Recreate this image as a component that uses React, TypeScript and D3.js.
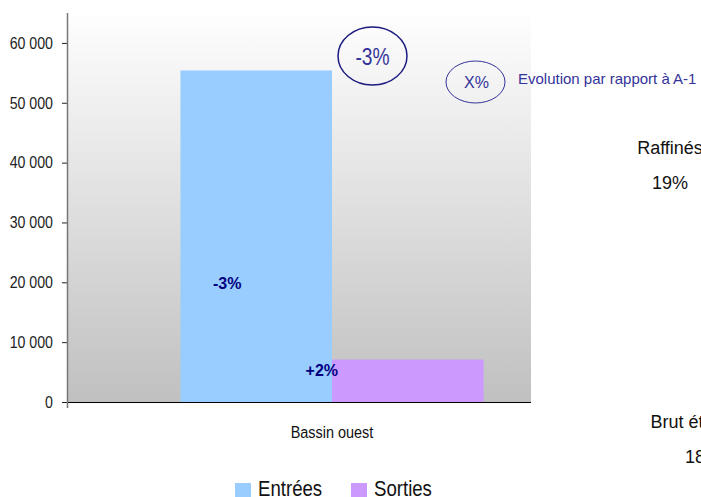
import { useEffect, useRef } from 'react';
import * as d3 from "d3";

const categories = ["Bassin ouest"];
const seriesNames = ["Entrées", "Sorties"];
const seriesColors = ["#99CCFF", "#CC99FF"];
const entrees = [55400];
const sorties = [7100];
const barEvolutions = ["-3%", "+2%"];
const totalEvolution = "-3%";
const yTicks = [0, 10000, 20000, 30000, 40000, 50000, 60000];
const pieNames = ["Raffinés", "Brut étranger"];
const piePcts = ["19%", "18%"];

const W = 701;
const H = 497;
const FONT = "'Liberation Sans', Arial, sans-serif";

type Sel = d3.Selection<SVGSVGElement, unknown, null, undefined>;

// texte un peu comprimé horizontalement, comme dans l'export d'origine
function label(svg: Sel, x: number, y: number, txt: string, size: number, sx = 1,
    anchor = "start", fill = "#111", weight = "normal") {
    return svg.append("text")
        .attr("transform", `translate(${x},${y}) scale(${sx},1)`)
        .attr("text-anchor", anchor)
        .attr("font-family", FONT).attr("font-size", size)
        .attr("font-weight", weight).attr("fill", fill)
        .text(txt);
}

const App = () => {
    const ref = useRef<SVGSVGElement | null>(null);

    useEffect(() => {
        if (!ref.current) return;
        const svg = d3.select(ref.current) as Sel;
        svg.selectAll("*").remove();

        const left = 68, right = 596, top = 13, bottom = 402;

        const y = d3.scaleLinear().domain([0, 65000]).range([bottom, top]);
        const x = d3.scaleBand().domain(categories).range([left, right]).paddingInner(0).paddingOuter(0.371);
        const xs = d3.scaleBand().domain(seriesNames).range([0, x.bandwidth()]);

        // fond dégradé
        const defs = svg.append("defs");
        const grad = defs.append("linearGradient").attr("id", "bg").attr("x1", 0).attr("y1", 0).attr("x2", 0).attr("y2", 1);
        grad.append("stop").attr("offset", "0%").attr("stop-color", "#fefefe");
        grad.append("stop").attr("offset", "100%").attr("stop-color", "#c0c0c0");

        svg.append("rect").attr("width", W).attr("height", H).attr("fill", "white");
        svg.append("rect")
            .attr("x", left).attr("y", y(65000) + 1)
            .attr("width", right - left).attr("height", bottom - y(65000) - 1)
            .attr("fill", "url(#bg)");

        // barres
        const values = [entrees, sorties];
        categories.forEach((c, ci) => {
            seriesNames.forEach((s, si) => {
                svg.append("rect")
                    .attr("x", (x(c) || 0) + (xs(s) || 0))
                    .attr("y", y(values[si][ci]))
                    .attr("width", xs.bandwidth())
                    .attr("height", bottom - y(values[si][ci]))
                    .attr("fill", seriesColors[si]);
            });
        });

        // ligne de base
        svg.append("line")
            .attr("x1", left).attr("x2", right).attr("y1", bottom + 0.5).attr("y2", bottom + 0.5)
            .attr("stroke", "#000").attr("stroke-width", 1.2);

        // axe gauche
        const fr = d3.formatLocale({ decimal: ",", thousands: " ", grouping: [3], currency: ["", " €"] });
        const sxAxis = 0.86;
        const yAxis = svg.append("g")
            .attr("transform", `translate(${left},0)`)
            .call(d3.axisLeft(y).tickValues(yTicks).tickFormat(d => fr.format(",")(d as number)).tickSize(6).tickPadding(9));
        yAxis.select(".domain").remove();
        yAxis.selectAll("line").attr("stroke", "#222");
        yAxis.selectAll("text")
            .attr("font-family", FONT).attr("font-size", 16.5).attr("fill", "#222")
            .attr("transform", `scale(${sxAxis},1)`)
            .attr("x", -15 / sxAxis);
        svg.append("line")
            .attr("x1", left - 0.5).attr("x2", left - 0.5).attr("y1", top).attr("y2", bottom + 6)
            .attr("stroke", "#777").attr("stroke-width", 1.5);

        // étiquette catégorie
        categories.forEach(c => {
            label(svg, (x(c) || 0) + x.bandwidth() / 2, 438, c, 17, 0.85, "middle");
        });

        // évolutions dans les barres
        const ex = (x(categories[0]) || 0);
        label(svg, ex + (xs("Entrées") || 0) + 32.5, y(entrees[0] * 0.34), barEvolutions[0], 16, 1, "start", "#000080", "bold");
        label(svg, ex + (xs("Sorties") || 0) + 6, y(sorties[0] * 0.62), barEvolutions[1], 16, 1, "end", "#000080", "bold");

        // zone du camembert (masque la droite du graphique)
        svg.append("rect").attr("x", 531).attr("y", 0).attr("width", W - 531).attr("height", H).attr("fill", "white");

        // évolution totale
        svg.append("ellipse")
            .attr("cx", 372.5).attr("cy", 56).attr("rx", 34.5).attr("ry", 29)
            .attr("fill", "none").attr("stroke", "#1a1a80").attr("stroke-width", 1.5);
        label(svg, 372.5, 65, totalEvolution, 24, 0.8, "middle", "#333399");

        // légende évolution
        svg.append("ellipse")
            .attr("cx", 475.5).attr("cy", 82).attr("rx", 29.5).attr("ry", 21)
            .attr("fill", "none").attr("stroke", "#333399").attr("stroke-width", 1);
        label(svg, 476.5, 88, "X%", 16, 1, "middle", "#333399");
        label(svg, 518, 83.5, "Evolution par rapport à A-1", 15, 1, "start", "#333399");

        // étiquettes du camembert
        const pieX = [670, 703];
        const pieY = [154, 428];
        pieNames.forEach((n, i) => {
            label(svg, pieX[i], pieY[i], n, 18, 1, "middle");
            label(svg, pieX[i], pieY[i] + 35, piePcts[i], 18, 1, "middle");
        });

        // légende
        const legX = [235, 351];
        seriesNames.forEach((s, i) => {
            svg.append("rect").attr("x", legX[i]).attr("y", 483).attr("width", 16).attr("height", 16).attr("fill", seriesColors[i]);
            label(svg, legX[i] + 23, 496, s, 23, 0.81);
        });
    }, []);

    return (
        <div style={{ position: "fixed", left: 0, top: 0 }}>
            <svg ref={ref} width={W} height={H} style={{ display: "block" }}></svg>
        </div>
    );
};

export default App;
